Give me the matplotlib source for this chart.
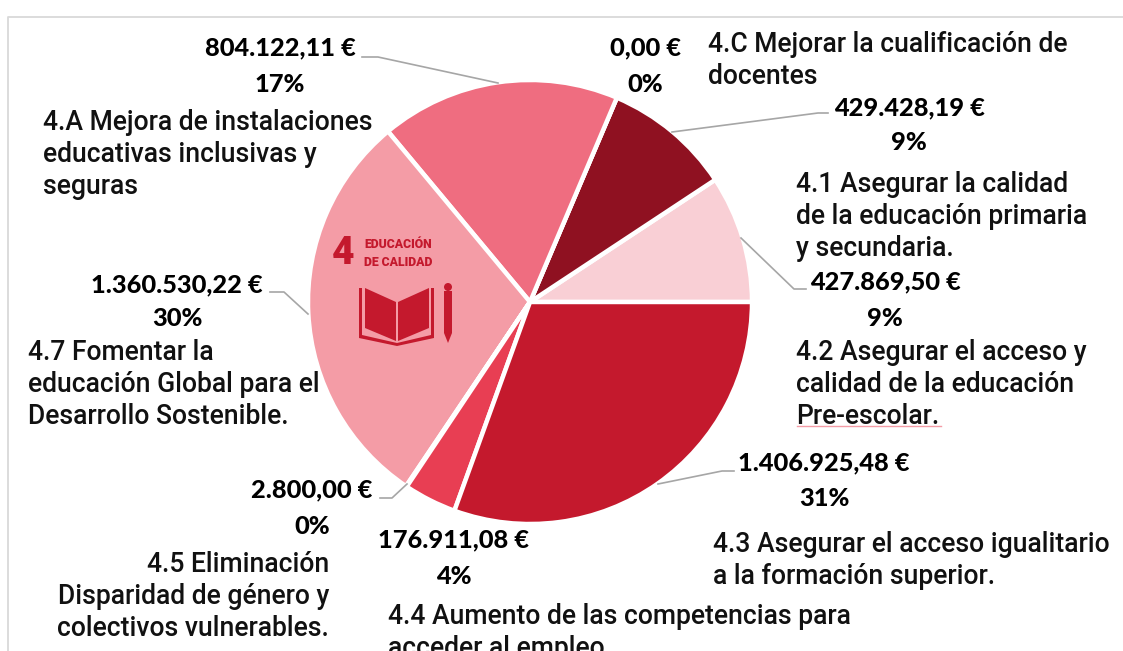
import matplotlib
matplotlib.use("Agg")
import matplotlib.pyplot as plt
from matplotlib.patches import Polygon, Circle

# Data
targets = ["4.2", "4.1", "4.C", "4.A", "4.7", "4.5", "4.4", "4.3"]
amounts = [427869.50, 429428.19, 0.0, 804122.11, 1360530.22, 2800.00, 176911.08, 1406925.48]
amount_labels = ["427.869,50 €", "429.428,19 €", "0,00 €", "804.122,11 €",
                 "1.360.530,22 €", "2.800,00 €", "176.911,08 €", "1.406.925,48 €"]
pct_labels = ["9%", "9%", "0%", "17%", "30%", "0%", "4%", "31%"]
colors = ["#F9CFD5", "#8F1121", "#C4192D", "#EF6D80", "#F49CA6", "#F49CA6", "#E83E53", "#C4192D"]
descriptions = {
    "4.2": "4.2 Asegurar el acceso y\ncalidad de la educación\nPre-escolar.",
    "4.1": "4.1 Asegurar la calidad\nde la educación primaria\ny secundaria.",
    "4.C": "4.C Mejorar la cualificación de\ndocentes",
    "4.A": "4.A Mejora de instalaciones\neducativas inclusivas y\nseguras",
    "4.7": "4.7 Fomentar la\neducación Global para el\nDesarrollo Sostenible.",
    "4.5": "4.5 Eliminación\nDisparidad de género y\ncolectivos vulnerables.",
    "4.4": "4.4 Aumento de las competencias para\nacceder al empleo",
    "4.3": "4.3 Asegurar el acceso igualitario\na la formación superior.",
}

W, H = 1123, 651
fig = plt.figure(figsize=(W / 100, H / 100), dpi=100)
ax = fig.add_axes([0, 0, 1, 1])
Y = lambda y: H - y

ax.pie(amounts, colors=colors, startangle=0, counterclock=True, center=(530, Y(302)), radius=222,
       frame=True, wedgeprops=dict(edgecolor="white", linewidth=3.2))
ax.set_xlim(0, W)
ax.set_ylim(0, H)
ax.set_aspect("equal")
ax.axis("off")

# chart frame
ax.plot([8, 8, W], [0, Y(16.5), Y(16.5)], color="#D9D9D9", lw=1.3, clip_on=False)

# amount + pct labels (center positions in pixel layout)
BOLD = dict(family="Lato", fontweight="black", fontsize=18.3, color="black", ha="center", va="center")
amount_pos = {"4.2": (885, 282), "4.1": (909, 108), "4.C": (645, 48), "4.A": (280, 48),
              "4.7": (177, 285), "4.5": (312, 490), "4.4": (454, 540), "4.3": (824, 463)}
pct_pos = {"4.2": (885, 319), "4.1": (909, 142), "4.C": (645, 85), "4.A": (280, 84),
           "4.7": (177, 319), "4.5": (312, 526), "4.4": (454, 576), "4.3": (824, 498)}
for t, a, p in zip(targets, amount_labels, pct_labels):
    ax.text(amount_pos[t][0], Y(amount_pos[t][1]), a, **BOLD)
    ax.text(pct_pos[t][0], Y(pct_pos[t][1]), p, **BOLD)

# descriptions: (x, top-line center y, ha)
desc_pos = {"4.2": (796, 353, "left"), "4.1": (796, 184, "left"), "4.C": (708, 45, "left"),
            "4.A": (43, 122, "left"), "4.7": (28, 353, "left"), "4.5": (329, 564, "right"),
            "4.4": (388, 617, "left"), "4.3": (713, 545, "left")}
for t, (x, y, ha) in desc_pos.items():
    for i, line in enumerate(descriptions[t].split("\n")):
        ax.text(x, Y(y + i * 32), line, family="Roboto", fontweight="medium", fontsize=19.1, color="#111111",
                ha=ha, va="center", clip_on=True)

# leader lines
leaders = [
    [(362, 57), (378, 57), (498, 83)],
    [(672, 132), (818, 113), (828, 113)],
    [(741, 238), (794, 289), (806, 289)],
    [(308, 314), (284, 292), (270, 292)],
    [(380, 498), (392, 498), (407, 484)],
    [(658, 484), (722, 471), (734, 471)],
]
for pts in leaders:
    ax.plot([p[0] for p in pts], [Y(p[1]) for p in pts], color="#A6A6A6", lw=1.2)

# underline under "Pre-escolar"
ax.plot([797, 941], [Y(426), Y(426)], color="#F49CA6", lw=1)

# SDG 4 logo
R = "#C4192D"
ax.text(343, Y(254), "4", family="Roboto", fontweight="black", fontsize=28, color=R, ha="center", va="center")
ax.text(398, Y(245), "EDUCACIÓN", family="Roboto", fontweight="black", fontsize=8.8, color=R, ha="center", va="center")
ax.text(398, Y(262), "DE CALIDAD", family="Roboto", fontweight="black", fontsize=8.8, color=R, ha="center", va="center")
def poly(pts):
    ax.add_patch(Polygon([(x, Y(y)) for x, y in pts], closed=True, facecolor=R, edgecolor="none", zorder=4))
poly([(365, 288), (396, 302), (396, 341), (365, 328)])
poly([(398, 302), (429, 288), (429, 328), (398, 341)])
poly([(359, 288), (362, 288), (362, 335), (397, 343), (431, 335), (431, 288), (434, 288),
      (434, 338), (397, 346), (359, 338)])
poly([(444, 291), (452, 291), (452, 333), (448, 343), (444, 333)])
ax.add_patch(Circle((448, Y(287)), 4, facecolor=R, edgecolor="none", zorder=4))

fig.savefig("out.png", dpi=100)
